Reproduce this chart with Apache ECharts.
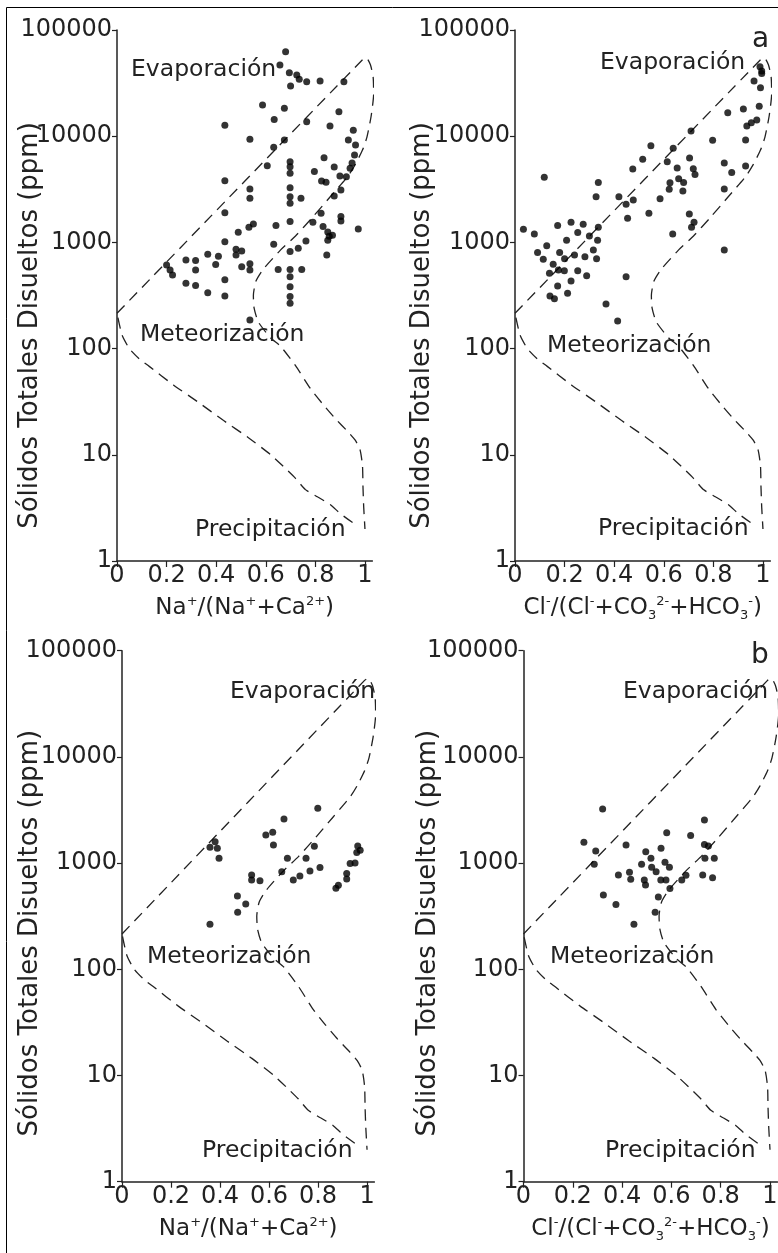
<!DOCTYPE html>
<html>
<head>
<meta charset="utf-8">
<title>Diagramas de Gibbs</title>
<script src="https://cdn.jsdelivr.net/npm/echarts@6/dist/echarts.min.js"></script>
<style>
  html, body { margin: 0; padding: 0; background: #fff; }
  #chart { width: 778px; height: 1253px; }
</style>
</head>
<body>
<div id="chart"></div>
<script>
// ---- datos: [relacion, STD (ppm)] ----
// a) Na+/(Na+ + Ca2+)
const naPointsA = [
  [0.680, 62500], [0.657, 46800], [0.695, 39600], [0.725, 37700], [0.735, 34300], [0.765, 32600],
  [0.819, 33100], [0.700, 29700], [0.915, 32600], [0.587, 19700], [0.675, 18300], [0.634, 14400],
  [0.895, 17000], [0.765, 13700], [0.435, 12700], [0.859, 12500], [0.953, 11400], [0.536, 9350],
  [0.675, 9220], [0.933, 9200], [0.962, 8260], [0.632, 7860], [0.958, 6650], [0.835, 6280],
  [0.698, 5750], [0.698, 5160], [0.698, 4470], [0.948, 5600], [0.940, 5000], [0.606, 5270],
  [0.876, 5130], [0.796, 4640], [0.825, 3790], [0.843, 3680], [0.899, 4220], [0.925, 4160],
  [0.435, 3810], [0.698, 3270], [0.903, 3110], [0.536, 3180], [0.536, 2600], [0.698, 2690],
  [0.742, 2600], [0.876, 2730], [0.698, 2340], [0.435, 1905], [0.823, 1880], [0.903, 1750],
  [0.903, 1590], [0.698, 1570], [0.790, 1550], [0.550, 1490], [0.532, 1390], [0.641, 1440],
  [0.973, 1340], [0.831, 1410], [0.850, 1250], [0.856, 1140], [0.869, 1170], [0.489, 1245],
  [0.850, 1050], [0.435, 1015], [0.762, 1030], [0.632, 960], [0.731, 880], [0.698, 820],
  [0.480, 860], [0.503, 830], [0.480, 760], [0.366, 773], [0.409, 740], [0.846, 760],
  [0.278, 683], [0.317, 676], [0.200, 612], [0.398, 620], [0.503, 590], [0.536, 630],
  [0.536, 550], [0.214, 550], [0.224, 493], [0.317, 550], [0.650, 556], [0.698, 556],
  [0.745, 556], [0.698, 475], [0.278, 412], [0.317, 392], [0.435, 446], [0.366, 336],
  [0.435, 313], [0.698, 383], [0.698, 309], [0.698, 267], [0.536, 186]
];
// a) Cl-/(Cl- + CO3 2- + HCO3-)
const clPointsA = [
  [0.988, 45100], [0.995, 38900], [0.964, 33100], [0.990, 28600], [0.995, 41000], [0.858, 16600],
  [0.921, 18000], [0.985, 19100], [0.975, 14200], [0.953, 13400], [0.935, 12500], [0.930, 9220],
  [0.710, 11200], [0.797, 9170], [0.548, 8140], [0.638, 7700], [0.515, 6060], [0.704, 6240],
  [0.614, 5750], [0.844, 5590], [0.930, 5250], [0.475, 4910], [0.654, 5010], [0.719, 4950],
  [0.726, 4360], [0.874, 4550], [0.118, 4100], [0.660, 3980], [0.625, 3650], [0.680, 3670],
  [0.336, 3670], [0.622, 3160], [0.677, 3050], [0.844, 3180], [0.327, 2690], [0.419, 2690],
  [0.477, 2510], [0.448, 2290], [0.585, 2580], [0.540, 1880], [0.703, 1850], [0.454, 1690],
  [0.722, 1550], [0.712, 1390], [0.226, 1550], [0.172, 1440], [0.275, 1480], [0.336, 1390],
  [0.034, 1330], [0.078, 1200], [0.253, 1240], [0.300, 1150], [0.636, 1200], [0.333, 1050],
  [0.208, 1050], [0.128, 930], [0.091, 805], [0.180, 805], [0.114, 693], [0.316, 847],
  [0.282, 733], [0.329, 703], [0.844, 847], [0.154, 622], [0.175, 550], [0.199, 542],
  [0.139, 513], [0.253, 542], [0.226, 433], [0.289, 484], [0.448, 476], [0.172, 389],
  [0.212, 332], [0.141, 313], [0.159, 295], [0.367, 263], [0.414, 182], [0.200, 700], [0.240, 760]
];
// b) Na+/(Na+ + Ca2+)
const naPointsB = [
  [0.359, 1410], [0.380, 1590], [0.389, 1380], [0.396, 1110], [0.587, 1840], [0.615, 1950],
  [0.618, 1480], [0.661, 2600], [0.799, 3280], [0.785, 1440], [0.675, 1110], [0.751, 1110],
  [0.529, 773], [0.529, 693], [0.563, 683], [0.652, 830], [0.699, 693], [0.726, 757],
  [0.767, 843], [0.808, 910], [0.471, 490], [0.505, 412], [0.472, 344], [0.359, 265],
  [0.873, 579], [0.883, 617], [0.917, 708], [0.917, 796], [0.931, 990], [0.951, 1000],
  [0.958, 1260], [0.972, 1320], [0.962, 1450]
];
// b) Cl-/(Cl- + CO3 2- + HCO3-)
const clPointsB = [
  [0.321, 3230], [0.245, 1570], [0.293, 1300], [0.287, 973], [0.416, 1480], [0.324, 500],
  [0.375, 408], [0.448, 265], [0.385, 773], [0.430, 818], [0.435, 703], [0.479, 973],
  [0.496, 1280], [0.517, 1110], [0.520, 912], [0.538, 830], [0.490, 692], [0.495, 623],
  [0.558, 1380], [0.581, 1930], [0.574, 1020], [0.592, 912], [0.557, 692], [0.578, 692],
  [0.594, 575], [0.547, 480], [0.534, 344], [0.642, 692], [0.659, 769], [0.678, 1820],
  [0.734, 2540], [0.734, 1500], [0.750, 1450], [0.736, 1110], [0.774, 1110], [0.727, 773],
  [0.767, 728]
];

// limites de Gibbs (linea discontinua), iguales en los cuatro paneles
// rama inferior: de la precipitacion hasta la punta izquierda
const lowerRatio = [0.95, 0.90, 0.86, 0.81, 0.76, 0.72, 0.67, 0.62, 0.53, 0.43, 0.33, 0.23, 0.13, 0.09, 0.05, 0.02, 0.0];
const lowerTds = [2.3, 2.8, 3.4, 4.0, 4.7, 6.0, 7.8, 10, 14.5, 21, 31, 45, 68, 80, 100, 135, 215];
// rama superior: punta izquierda -> evaporacion -> meteorizacion -> precipitacion
const upperRatio = [
  0.0, 0.99, 1.005, 1.022, 1.033, 1.035, 1.025, 1.008, 0.99, 0.96, 0.93, 0.86, 0.79, 0.72, 0.66,
  0.59, 0.56, 0.55, 0.553, 0.57, 0.62, 0.66, 0.72, 0.78, 0.83, 0.88, 0.93, 0.96, 0.98, 0.99,
  0.992, 0.995, 1.0
];
const upperTds = [
  215, 52500, 55000, 47000, 36000, 25000, 15500, 9800, 7400, 5370, 4170, 2690, 1740, 1150, 850,
  560, 430, 316, 240, 178, 126, 105, 69, 42, 30, 22, 16.6, 13.8, 11.2, 7.9,
  5.0, 3.2, 2.0
];

const xTicks = [0, 0.2, 0.4, 0.6, 0.8, 1];
const yTicks = [1, 10, 100, 1000, 10000, 100000];

const FONT = '"DejaVu Sans", sans-serif';
const INK = '#222';

const naName = '{t|Na}{p|+}{t|/(Na}{p|+}{t|+Ca}{p|2+}{t|)}';
const clName = '{t|Cl}{p|-}{t|/(Cl}{p|-}{t|+CO}{b|3}{p|2-}{t|+HCO}{b|3}{p|-}{t|)}';

const grids = [
  { left: 117, top: 30, width: 255.4, height: 531, outerBoundsMode: 'none' },
  { left: 515, top: 30, width: 255.4, height: 531, outerBoundsMode: 'none' },
  { left: 122, top: 650.7, width: 252.4, height: 531, outerBoundsMode: 'none' },
  { left: 523.5, top: 650.7, width: 253.9, height: 531, outerBoundsMode: 'none' }
];
const panels = [
  { points: naPointsA, name: naName, yGap: 74, shift: 30 },
  { points: clPointsA, name: clName, yGap: 80, shift: 30 },
  { points: naPointsB, name: naName, yGap: 79, shift: 17 },
  { points: clPointsB, name: clName, yGap: 82, shift: 17 }
];

const lower = lowerRatio.map((r, i) => [r, lowerTds[i]]);
const upper = upperRatio.map((r, i) => [r, upperTds[i]]);

function boundaryLine(i, data) {
  return {
    type: 'line',
    xAxisIndex: i, yAxisIndex: i,
    data: data,
    showSymbol: false,
    smooth: 0.2,
    clip: false,
    silent: true,
    lineStyle: { color: INK, width: 1.3, type: [11, 7] },
    z: 1
  };
}

const xAxes = [], yAxes = [], series = [];
panels.forEach(function (p, i) {
  xAxes.push({
    gridIndex: i,
    type: 'value',
    min: 0,
    max: 1.03,
    name: p.name,
    nameLocation: 'middle',
    nameGap: 34,
    nameMoveOverlap: false,
    nameTextStyle: {
      rich: {
        t: { fontSize: 23, fontFamily: FONT, color: INK, lineHeight: 27, verticalAlign: 'middle' },
        p: { fontSize: 13, fontFamily: FONT, color: INK, lineHeight: 13, verticalAlign: 'top' },
        b: { fontSize: 13, fontFamily: FONT, color: INK, lineHeight: 9, verticalAlign: 'bottom' }
      }
    },
    axisLine: { onZero: false, lineStyle: { color: INK, width: 1.5 } },
    axisTick: { customValues: xTicks, length: 6, lineStyle: { color: INK, width: 1.2 } },
    axisLabel: {
      customValues: xTicks, margin: 3,
      color: INK, fontSize: 24, fontFamily: FONT,
      formatter: v => String(v)
    },
    splitLine: { show: false }
  });
  yAxes.push({
    gridIndex: i,
    type: 'log',
    logBase: 10,
    min: 1,
    max: 100000,
    name: 'Sólidos Totales Disueltos (ppm)',
    nameLocation: 'middle',
    nameGap: p.yGap,
    nameMoveOverlap: false,
    nameTextStyle: { color: INK, fontSize: 26, fontFamily: FONT, padding: [0, 2 * p.shift, 0, 0] },
    axisLine: { lineStyle: { color: INK, width: 1.5 } },
    axisTick: { customValues: yTicks, length: 5, lineStyle: { color: INK, width: 1.2 } },
    axisLabel: {
      customValues: yTicks, margin: 5,
      color: INK, fontSize: 24, fontFamily: FONT,
      formatter: v => String(Math.round(v))
    },
    splitLine: { show: false }
  });
  series.push(boundaryLine(i, lower));
  series.push(boundaryLine(i, upper));
  series.push({
    type: 'scatter',
    xAxisIndex: i, yAxisIndex: i,
    data: p.points,
    symbol: 'circle',
    symbolSize: 7,
    itemStyle: { color: '#000' },
    z: 3
  });
});

// rotulos dentro de los paneles
function label(text, x, y, size) {
  return {
    type: 'text', x: x, y: y, z: 10,
    style: { text: text, fill: INK, font: (size || 23.5) + 'px ' + FONT, textVerticalAlign: 'middle' }
  };
}
const graphics = [
  label('Evaporación', 131, 70), label('Meteorización', 140, 335), label('Precipitación', 195, 530),
  label('Evaporación', 600, 63), label('Meteorización', 547, 346), label('Precipitación', 598, 529),
  label('Evaporación', 230, 692), label('Meteorización', 147, 957), label('Precipitación', 202, 1151),
  label('Evaporación', 623, 692), label('Meteorización', 550, 957), label('Precipitación', 605, 1151),
  label('a', 752, 40, 28), label('b', 751, 656, 28),
  // marco de la figura (recortada a la derecha y abajo)
  { type: 'polyline', silent: true, shape: { points: [[6.5, 1253], [6.5, 7.5], [778, 7.5]] },
    style: { stroke: '#000', lineWidth: 1, fill: null } }
];

const chart = echarts.init(document.getElementById('chart'));
chart.setOption({
  animation: false,
  backgroundColor: '#fff',
  grid: grids,
  xAxis: xAxes,
  yAxis: yAxes,
  series: series,
  graphic: graphics
});
</script>
</body>
</html>
